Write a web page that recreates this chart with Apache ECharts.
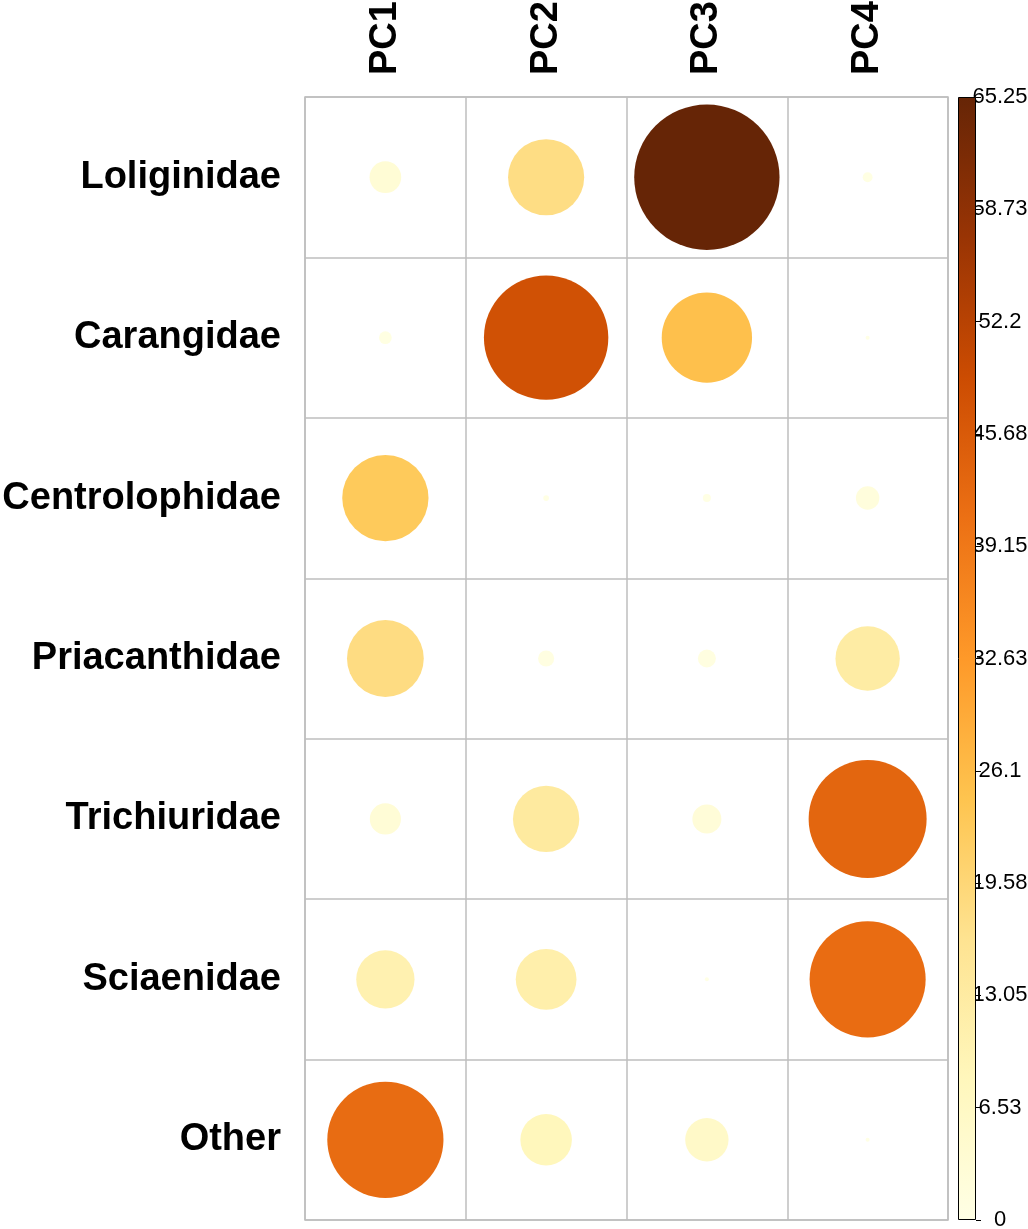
<!DOCTYPE html>
<html>
<head>
<meta charset="utf-8" />
<title>Family contributions to PCs</title>
<script src="https://cdn.jsdelivr.net/npm/echarts@6/dist/echarts.min.js"></script>
<style>
  html, body { margin: 0; padding: 0; background: #fff; }
  #chart { width: 1028px; height: 1229px; }
</style>
</head>
<body>
<div id="chart"></div>
<script>
// rows (top to bottom) and columns
var families = ['Loliginidae', 'Carangidae', 'Centrolophidae', 'Priacanthidae', 'Trichiuridae', 'Sciaenidae', 'Other'];
var components = ['PC1', 'PC2', 'PC3', 'PC4'];

// contribution (%) of each family, one array per component
var pc1 = [3.1, 0.5, 23.0, 18.2, 3.0, 10.5, 41.7];
var pc2 = [17.9, 47.8, 0.1, 0.8, 13.6, 11.4, 8.2];
var pc3 = [65.25, 25.2, 0.2, 1.0, 2.6, 0.05, 5.8];
var pc4 = [0.3, 0.05, 1.7, 12.8, 43.0, 41.6, 0.05];

var colorMax = 65.25;
var colorbarTicks = ['0', '6.53', '13.05', '19.58', '26.1', '32.63', '39.15', '45.68', '52.2', '58.73', '65.25'];
var palette = ['#FFFFE5', '#FFF7BC', '#FEE391', '#FEC44F', '#FE9929', '#EC7014', '#CC4C02', '#993404', '#662506'];

var chart = echarts.init(document.getElementById('chart'));

// layout of the matrix
var gridLeft = 305, gridRight = 80, gridTop = 97, gridBottom = 9;
var cellW = (chart.getWidth() - gridLeft - gridRight) / components.length;
var cellH = (chart.getHeight() - gridTop - gridBottom) / families.length;
var rMax = 0.453 * Math.min(cellW, cellH);

var columns = [pc1, pc2, pc3, pc4];
var points = [];
columns.forEach(function (col, j) {
    col.forEach(function (v, i) {
        points.push([j, i, v]);
    });
});

var gradStops = palette.map(function (c, k) {
    return { offset: k / (palette.length - 1), color: c };
});

var font = '"Liberation Sans", Arial, Helvetica, sans-serif';

chart.setOption({
    backgroundColor: '#fff',
    animation: false,
    grid: [
        { left: gridLeft, right: gridRight, top: gridTop, bottom: gridBottom,
          outerBoundsMode: 'none', containLabel: false,
          show: true, borderColor: '#bebebe', borderWidth: 1.5, backgroundColor: 'transparent' },
        { left: 958, width: 18, top: gridTop, bottom: gridBottom,
          outerBoundsMode: 'none', containLabel: false }
    ],
    xAxis: [
        {
            gridIndex: 0,
            type: 'category',
            position: 'top',
            data: components,
            axisLine: { show: false },
            axisTick: { show: false },
            splitLine: { show: true, interval: 0, lineStyle: { color: '#bebebe', width: 1.5 } },
            axisLabel: {
                rotate: -90, margin: 22, interval: 0, padding: [0, 0, 6, 0],
                fontFamily: font, fontSize: 38, fontWeight: 'bold', color: '#000'
            }
        },
        {
            gridIndex: 1,
            type: 'category',
            data: [''],
            show: false
        }
    ],
    yAxis: [
        {
            gridIndex: 0,
            type: 'category',
            inverse: true,
            data: families,
            axisLine: { show: false },
            axisTick: { show: false },
            splitLine: { show: true, interval: 0, lineStyle: { color: '#bebebe', width: 1.5 } },
            axisLabel: {
                margin: 24, interval: 0, padding: [7, 0, 0, 0],
                fontFamily: font, fontSize: 38, fontWeight: 'bold', color: '#000'
            }
        },
        {
            gridIndex: 1,
            type: 'value',
            position: 'right',
            min: 0,
            max: colorMax,
            interval: colorMax / 10,
            axisLine: { show: false },
            axisTick: { show: true, length: 5, lineStyle: { color: '#000', width: 1 } },
            splitLine: { show: false },
            axisLabel: {
                margin: 24, align: 'center',
                fontFamily: font, fontSize: 22, color: '#000',
                formatter: function (v) {
                    return colorbarTicks[Math.round(v / (colorMax / 10))];
                }
            }
        }
    ],
    visualMap: {
        show: false,
        type: 'continuous',
        seriesIndex: 0,
        dimension: 2,
        min: 0,
        max: colorMax,
        inRange: { color: palette }
    },
    series: [
        {
            type: 'scatter',
            xAxisIndex: 0,
            yAxisIndex: 0,
            data: points,
            symbol: 'circle',
            symbolSize: function (val) {
                return 2 * rMax * Math.sqrt(Math.max(val[2], 0) / colorMax);
            },
            itemStyle: { opacity: 1 }
        },
        {
            type: 'bar',
            xAxisIndex: 1,
            yAxisIndex: 1,
            data: [colorMax],
            barWidth: '100%',
            itemStyle: {
                borderColor: '#000',
                borderWidth: 1,
                color: new echarts.graphic.LinearGradient(0, 1, 0, 0, gradStops)
            }
        }
    ]
});
</script>
</body>
</html>
